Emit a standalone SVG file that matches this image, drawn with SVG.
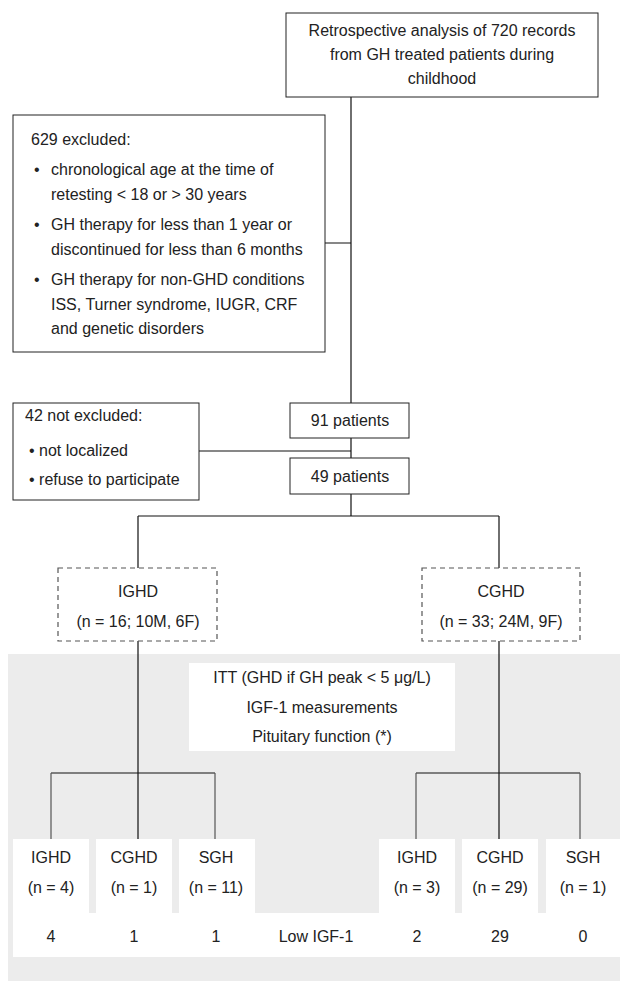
<svg xmlns="http://www.w3.org/2000/svg" width="620" height="981" viewBox="0 0 620 981">
<style>
text{font-family:"Liberation Sans",Arial,sans-serif;font-size:16px;fill:#222}
.c{text-anchor:middle}
.box{fill:#fff;stroke:#222;stroke-width:1}
.dash{fill:#fff;stroke:#555;stroke-width:1.2;stroke-dasharray:5 4}
.ln{fill:none;stroke:#111;stroke-width:1.2}
.ln2{fill:none;stroke:#555;stroke-width:1.2}
.wh{fill:#fff}
</style>
<rect x="0" y="0" width="620" height="981" fill="#fff"/>
<g id="panel">
<rect x="8" y="654" width="612" height="327" fill="#ececec"/>
<rect class="wh" x="189" y="663" width="266" height="88"/>
<rect class="wh" x="13" y="839" width="76" height="74"/>
<rect class="wh" x="96" y="839" width="76" height="74"/>
<rect class="wh" x="179" y="839" width="76" height="74"/>
<rect class="wh" x="379" y="839" width="76" height="74"/>
<rect class="wh" x="462" y="839" width="76" height="74"/>
<rect class="wh" x="546" y="839" width="74" height="74"/>
<rect class="wh" x="13" y="913" width="607" height="44"/>
</g>
<g id="connectors">
<path class="ln" d="M351 97V403M351 438V458M351 494V516M325 243H351M199 451H351"/>
<path class="ln" d="M138 516H499M138 516V568M499 516V568"/>
<path class="ln" d="M138 641V839M51 773H215M499 641V839M416 773H580"/>
<path class="ln2" d="M51 773V839M215 773V839M416 773V839M580 773V839"/>
</g>
<g id="n_top">
<rect class="box" x="286" y="13" width="312" height="84"/>
<text class="c" x="442" y="36">Retrospective analysis of 720 records</text>
<text class="c" x="442" y="60">from GH treated patients during</text>
<text class="c" x="442" y="84">childhood</text>
</g>
<g id="n_excluded">
<rect class="box" x="13" y="115" width="312" height="237"/>
<text x="31" y="145">629 excluded:</text>
<text x="34" y="175" font-size="18">•</text>
<text x="51" y="175">chronological age at the time of</text>
<text x="51" y="200">retesting &lt; 18 or &gt; 30 years</text>
<text x="34" y="230" font-size="18">•</text>
<text x="51" y="230">GH therapy for less than 1 year or</text>
<text x="51" y="255">discontinued for less than 6 months</text>
<text x="34" y="285" font-size="18">•</text>
<text x="51" y="285">GH therapy for non-GHD conditions</text>
<text x="51" y="310">ISS, Turner syndrome, IUGR, CRF</text>
<text x="51" y="334">and genetic disorders</text>
</g>
<g id="n_notexcluded">
<rect class="box" x="13" y="403" width="186" height="97"/>
<text x="25" y="421">42 not excluded:</text>
<text x="29" y="456">• not localized</text>
<text x="29" y="485">• refuse to participate</text>
</g>
<g id="n_91">
<rect class="box" x="290" y="403" width="119" height="35"/>
<text class="c" x="350" y="426">91 patients</text>
</g>
<g id="n_49">
<rect class="box" x="290" y="458" width="119" height="36"/>
<text class="c" x="350" y="482">49 patients</text>
</g>
<g id="n_ighd">
<rect class="dash" x="58" y="568" width="159" height="73"/>
<text class="c" x="138" y="597">IGHD</text>
<text class="c" x="138" y="627">(n = 16; 10M, 6F)</text>
</g>
<g id="n_cghd">
<rect class="dash" x="422" y="568" width="158" height="73"/>
<text class="c" x="501" y="597">CGHD</text>
<text class="c" x="501" y="627">(n = 33; 24M, 9F)</text>
</g>
<g id="n_tests">
<text class="c" x="322" y="683">ITT (GHD if GH peak &lt; 5 μg/L)</text>
<text class="c" x="322" y="713">IGF-1 measurements</text>
<text class="c" x="322" y="742">Pituitary function (*)</text>
</g>
<g id="n_l_ighd">
<text class="c" x="51" y="863">IGHD</text>
<text class="c" x="51" y="893">(n = 4)</text>
</g>
<g id="n_l_cghd">
<text class="c" x="134" y="863">CGHD</text>
<text class="c" x="134" y="893">(n = 1)</text>
</g>
<g id="n_l_sgh">
<text class="c" x="216" y="863">SGH</text>
<text class="c" x="216" y="893">(n = 11)</text>
</g>
<g id="n_r_ighd">
<text class="c" x="417" y="863">IGHD</text>
<text class="c" x="417" y="893">(n = 3)</text>
</g>
<g id="n_r_cghd">
<text class="c" x="500" y="863">CGHD</text>
<text class="c" x="500" y="893">(n = 29)</text>
</g>
<g id="n_r_sgh">
<text class="c" x="583" y="863">SGH</text>
<text class="c" x="583" y="893">(n = 1)</text>
</g>
<g id="n_lowigf">
<text class="c" x="51" y="942">4</text>
<text class="c" x="134" y="942">1</text>
<text class="c" x="216" y="942">1</text>
<text class="c" x="316" y="942">Low IGF-1</text>
<text class="c" x="417" y="942">2</text>
<text class="c" x="500" y="942">29</text>
<text class="c" x="583" y="942">0</text>
</g>
</svg>
